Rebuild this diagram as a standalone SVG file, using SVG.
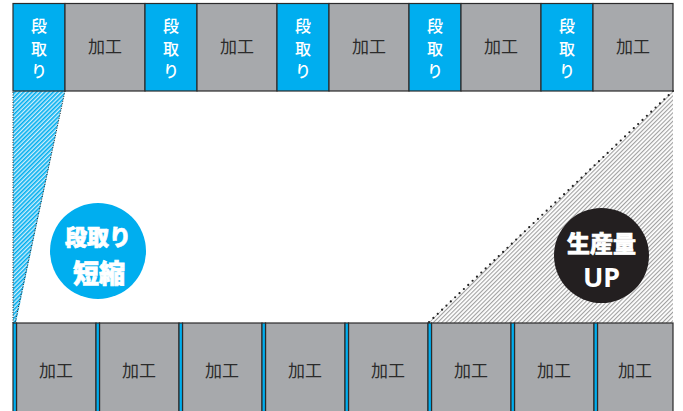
<svg xmlns="http://www.w3.org/2000/svg" width="683" height="411" viewBox="0 0 683 411">
<style>
.blue{fill:#00AEEF;stroke:#2b2b2b;stroke-width:1.2}
.gray{fill:#A7A9AC;stroke:#2b2b2b;stroke-width:1.2}
.kt{font-family:"Noto Sans CJK JP","Noto Sans",sans-serif;font-size:17px;fill:#2b2b2b;text-anchor:middle}
.dt{font-family:"Noto Sans CJK JP","Noto Sans",sans-serif;font-size:16px;fill:#fff;text-anchor:middle;font-weight:500}
.ct{font-family:"Noto Sans CJK JP","Noto Sans",sans-serif;font-weight:900;fill:#fff;stroke:#fff;stroke-width:0.7;text-anchor:middle}
.ut{font-family:"Noto Sans","Liberation Sans",sans-serif;font-weight:bold;fill:#fff;text-anchor:middle}
</style>
<defs>
<pattern id="hb" width="3" height="3" patternUnits="userSpaceOnUse" patternTransform="rotate(45)">
<rect width="3" height="3" fill="#cfeefb"/>
<rect width="1.6" height="3" fill="#00AEEF"/>
</pattern>
<pattern id="hg" width="3" height="3" patternUnits="userSpaceOnUse" patternTransform="rotate(45)">
<rect width="3" height="3" fill="#ffffff"/>
<rect width="1.1" height="3" fill="#a0a0a0"/>
</pattern>
</defs>
<rect width="683" height="411" fill="#fff"/>
<g id="areas">
<polygon points="13,91 65,91 16,323 13,323" fill="url(#hb)"/>
<polygon points="673,91 428,323 673,323" fill="url(#hg)"/>
</g>
<g id="connectors">
<polyline points="13,323 13,91" fill="none" stroke="#222" stroke-width="1" stroke-dasharray="1 1.5"/>
<line x1="65" y1="91" x2="15" y2="323" stroke="#222" stroke-width="1" stroke-dasharray="1 1.5"/>
<line x1="673" y1="91" x2="428" y2="323" stroke="#222" stroke-width="2.2" stroke-linecap="round" stroke-dasharray="0 6"/>
</g>
<g id="top-row">
<g id="s1"><rect class="blue" x="13" y="3.5" width="52" height="87.5"/><text class="dt" x="39" y="32">段</text><text class="dt" x="39" y="55">取</text><text class="dt" x="39" y="77">り</text></g>
<g id="k1"><rect class="gray" x="65" y="3.5" width="80" height="87.5"/><text class="kt" x="105" y="53">加工</text></g>
<g id="s2"><rect class="blue" x="145" y="3.5" width="52" height="87.5"/><text class="dt" x="171" y="32">段</text><text class="dt" x="171" y="55">取</text><text class="dt" x="171" y="77">り</text></g>
<g id="k2"><rect class="gray" x="197" y="3.5" width="80" height="87.5"/><text class="kt" x="237" y="53">加工</text></g>
<g id="s3"><rect class="blue" x="277" y="3.5" width="52" height="87.5"/><text class="dt" x="303" y="32">段</text><text class="dt" x="303" y="55">取</text><text class="dt" x="303" y="77">り</text></g>
<g id="k3"><rect class="gray" x="329" y="3.5" width="80" height="87.5"/><text class="kt" x="369" y="53">加工</text></g>
<g id="s4"><rect class="blue" x="409" y="3.5" width="52" height="87.5"/><text class="dt" x="435" y="32">段</text><text class="dt" x="435" y="55">取</text><text class="dt" x="435" y="77">り</text></g>
<g id="k4"><rect class="gray" x="461" y="3.5" width="80" height="87.5"/><text class="kt" x="501" y="53">加工</text></g>
<g id="s5"><rect class="blue" x="541" y="3.5" width="52" height="87.5"/><text class="dt" x="567" y="32">段</text><text class="dt" x="567" y="55">取</text><text class="dt" x="567" y="77">り</text></g>
<g id="k5"><rect class="gray" x="593" y="3.5" width="80" height="87.5"/><text class="kt" x="633" y="53">加工</text></g>
</g>
<g id="bottom-row">
<g id="b1"><rect class="gray" x="16.5" y="323" width="79.5" height="92"/><rect class="blue" x="13" y="323" width="3.5" height="92"/><text class="kt" x="56" y="377">加工</text></g>
<g id="b2"><rect class="gray" x="99.5" y="323" width="79.5" height="92"/><rect class="blue" x="96" y="323" width="3.5" height="92"/><text class="kt" x="139" y="377">加工</text></g>
<g id="b3"><rect class="gray" x="182.5" y="323" width="79.5" height="92"/><rect class="blue" x="179" y="323" width="3.5" height="92"/><text class="kt" x="222" y="377">加工</text></g>
<g id="b4"><rect class="gray" x="265.5" y="323" width="79.5" height="92"/><rect class="blue" x="262" y="323" width="3.5" height="92"/><text class="kt" x="305" y="377">加工</text></g>
<g id="b5"><rect class="gray" x="348.5" y="323" width="79.5" height="92"/><rect class="blue" x="345" y="323" width="3.5" height="92"/><text class="kt" x="388" y="377">加工</text></g>
<g id="b6"><rect class="gray" x="431.5" y="323" width="79.5" height="92"/><rect class="blue" x="428" y="323" width="3.5" height="92"/><text class="kt" x="471" y="377">加工</text></g>
<g id="b7"><rect class="gray" x="514.5" y="323" width="79.5" height="92"/><rect class="blue" x="511" y="323" width="3.5" height="92"/><text class="kt" x="554" y="377">加工</text></g>
<g id="b8"><rect class="gray" x="597.5" y="323" width="75.5" height="92"/><rect class="blue" x="594" y="323" width="3.5" height="92"/><text class="kt" x="635" y="377">加工</text></g>
</g>
<g id="badge-short">
<circle cx="98" cy="251" r="48" fill="#00AEEF"/>
<text class="ct" x="98" y="245" font-size="22">段取り</text>
<text class="ct" x="99" y="283" font-size="26">短縮</text>
</g>
<g id="badge-up">
<circle cx="601.5" cy="255.5" r="47.5" fill="#231F20"/>
<text class="ct" x="601.5" y="252" font-size="23">生産量</text>
<text class="ut" x="601.5" y="287" font-size="27">UP</text>
</g>
</svg>
